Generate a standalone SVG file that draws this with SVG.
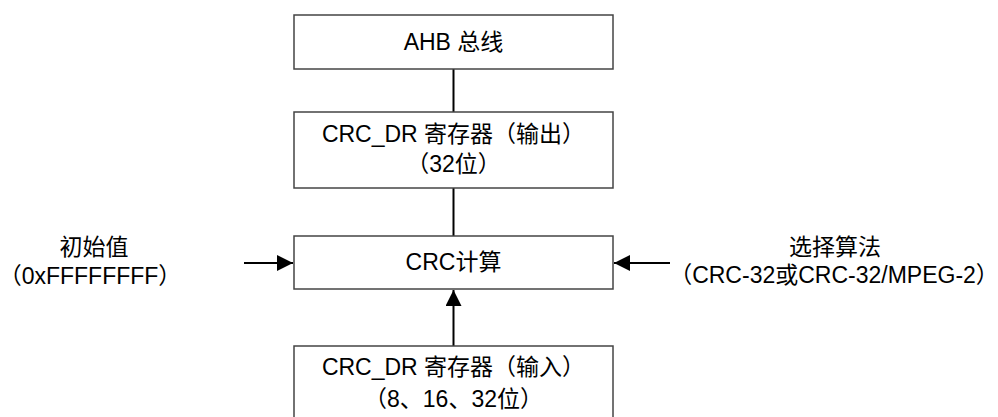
<svg xmlns="http://www.w3.org/2000/svg" width="998" height="417" viewBox="0 0 998 417">
<style>
.box{fill:#fff;stroke:#444;stroke-width:1.5}
.t{font-family:"Liberation Sans","Noto Sans CJK SC",sans-serif;font-size:23px;fill:#000;text-anchor:middle}
.c{stroke:#000;stroke-width:2;fill:none}
</style>
<defs>
<marker id="ah" markerWidth="16" markerHeight="16" viewBox="0 0 16 16" refX="16" refY="8" orient="auto" markerUnits="userSpaceOnUse">
<path d="M0,0 L16,8 L0,16 Z" fill="#000"/>
</marker>
</defs>
<rect width="998" height="417" fill="#fff"/>
<g id="connectors">
<line class="c" x1="453.5" y1="69" x2="453.5" y2="112"/>
<line class="c" x1="453.5" y1="188" x2="453.5" y2="236"/>
<line class="c" x1="453.5" y1="346" x2="453.5" y2="290" marker-end="url(#ah)"/>
<line class="c" x1="244" y1="263" x2="293" y2="263" marker-end="url(#ah)"/>
<line class="c" x1="670" y1="263" x2="614" y2="263" marker-end="url(#ah)"/>
</g>
<g id="ahb">
<rect class="box" x="294" y="15" width="319" height="54"/>
<text class="t" x="453.5" y="50">AHB 总线</text>
</g>
<g id="dr-out">
<rect class="box" x="294" y="112" width="319" height="76"/>
<text class="t" x="453.5" y="142">CRC_DR 寄存器（输出）</text>
<text class="t" x="453.5" y="172">（32位）</text>
</g>
<g id="crc">
<rect class="box" x="294" y="236" width="319" height="53"/>
<text class="t" x="453.5" y="270">CRC计算</text>
</g>
<g id="dr-in">
<rect class="box" x="294" y="346" width="319" height="80"/>
<text class="t" x="453.5" y="375">CRC_DR 寄存器（输入）</text>
<text class="t" x="453.5" y="407">（8、16、32位）</text>
</g>
<g id="init">
<text class="t" x="94" y="255">初始值</text>
<text class="t" x="90" y="284">（0xFFFFFFFF）</text>
</g>
<g id="algo">
<text class="t" x="835" y="255">选择算法</text>
<text class="t" x="834" y="283">（CRC-32或CRC-32/MPEG-2）</text>
</g>
</svg>
